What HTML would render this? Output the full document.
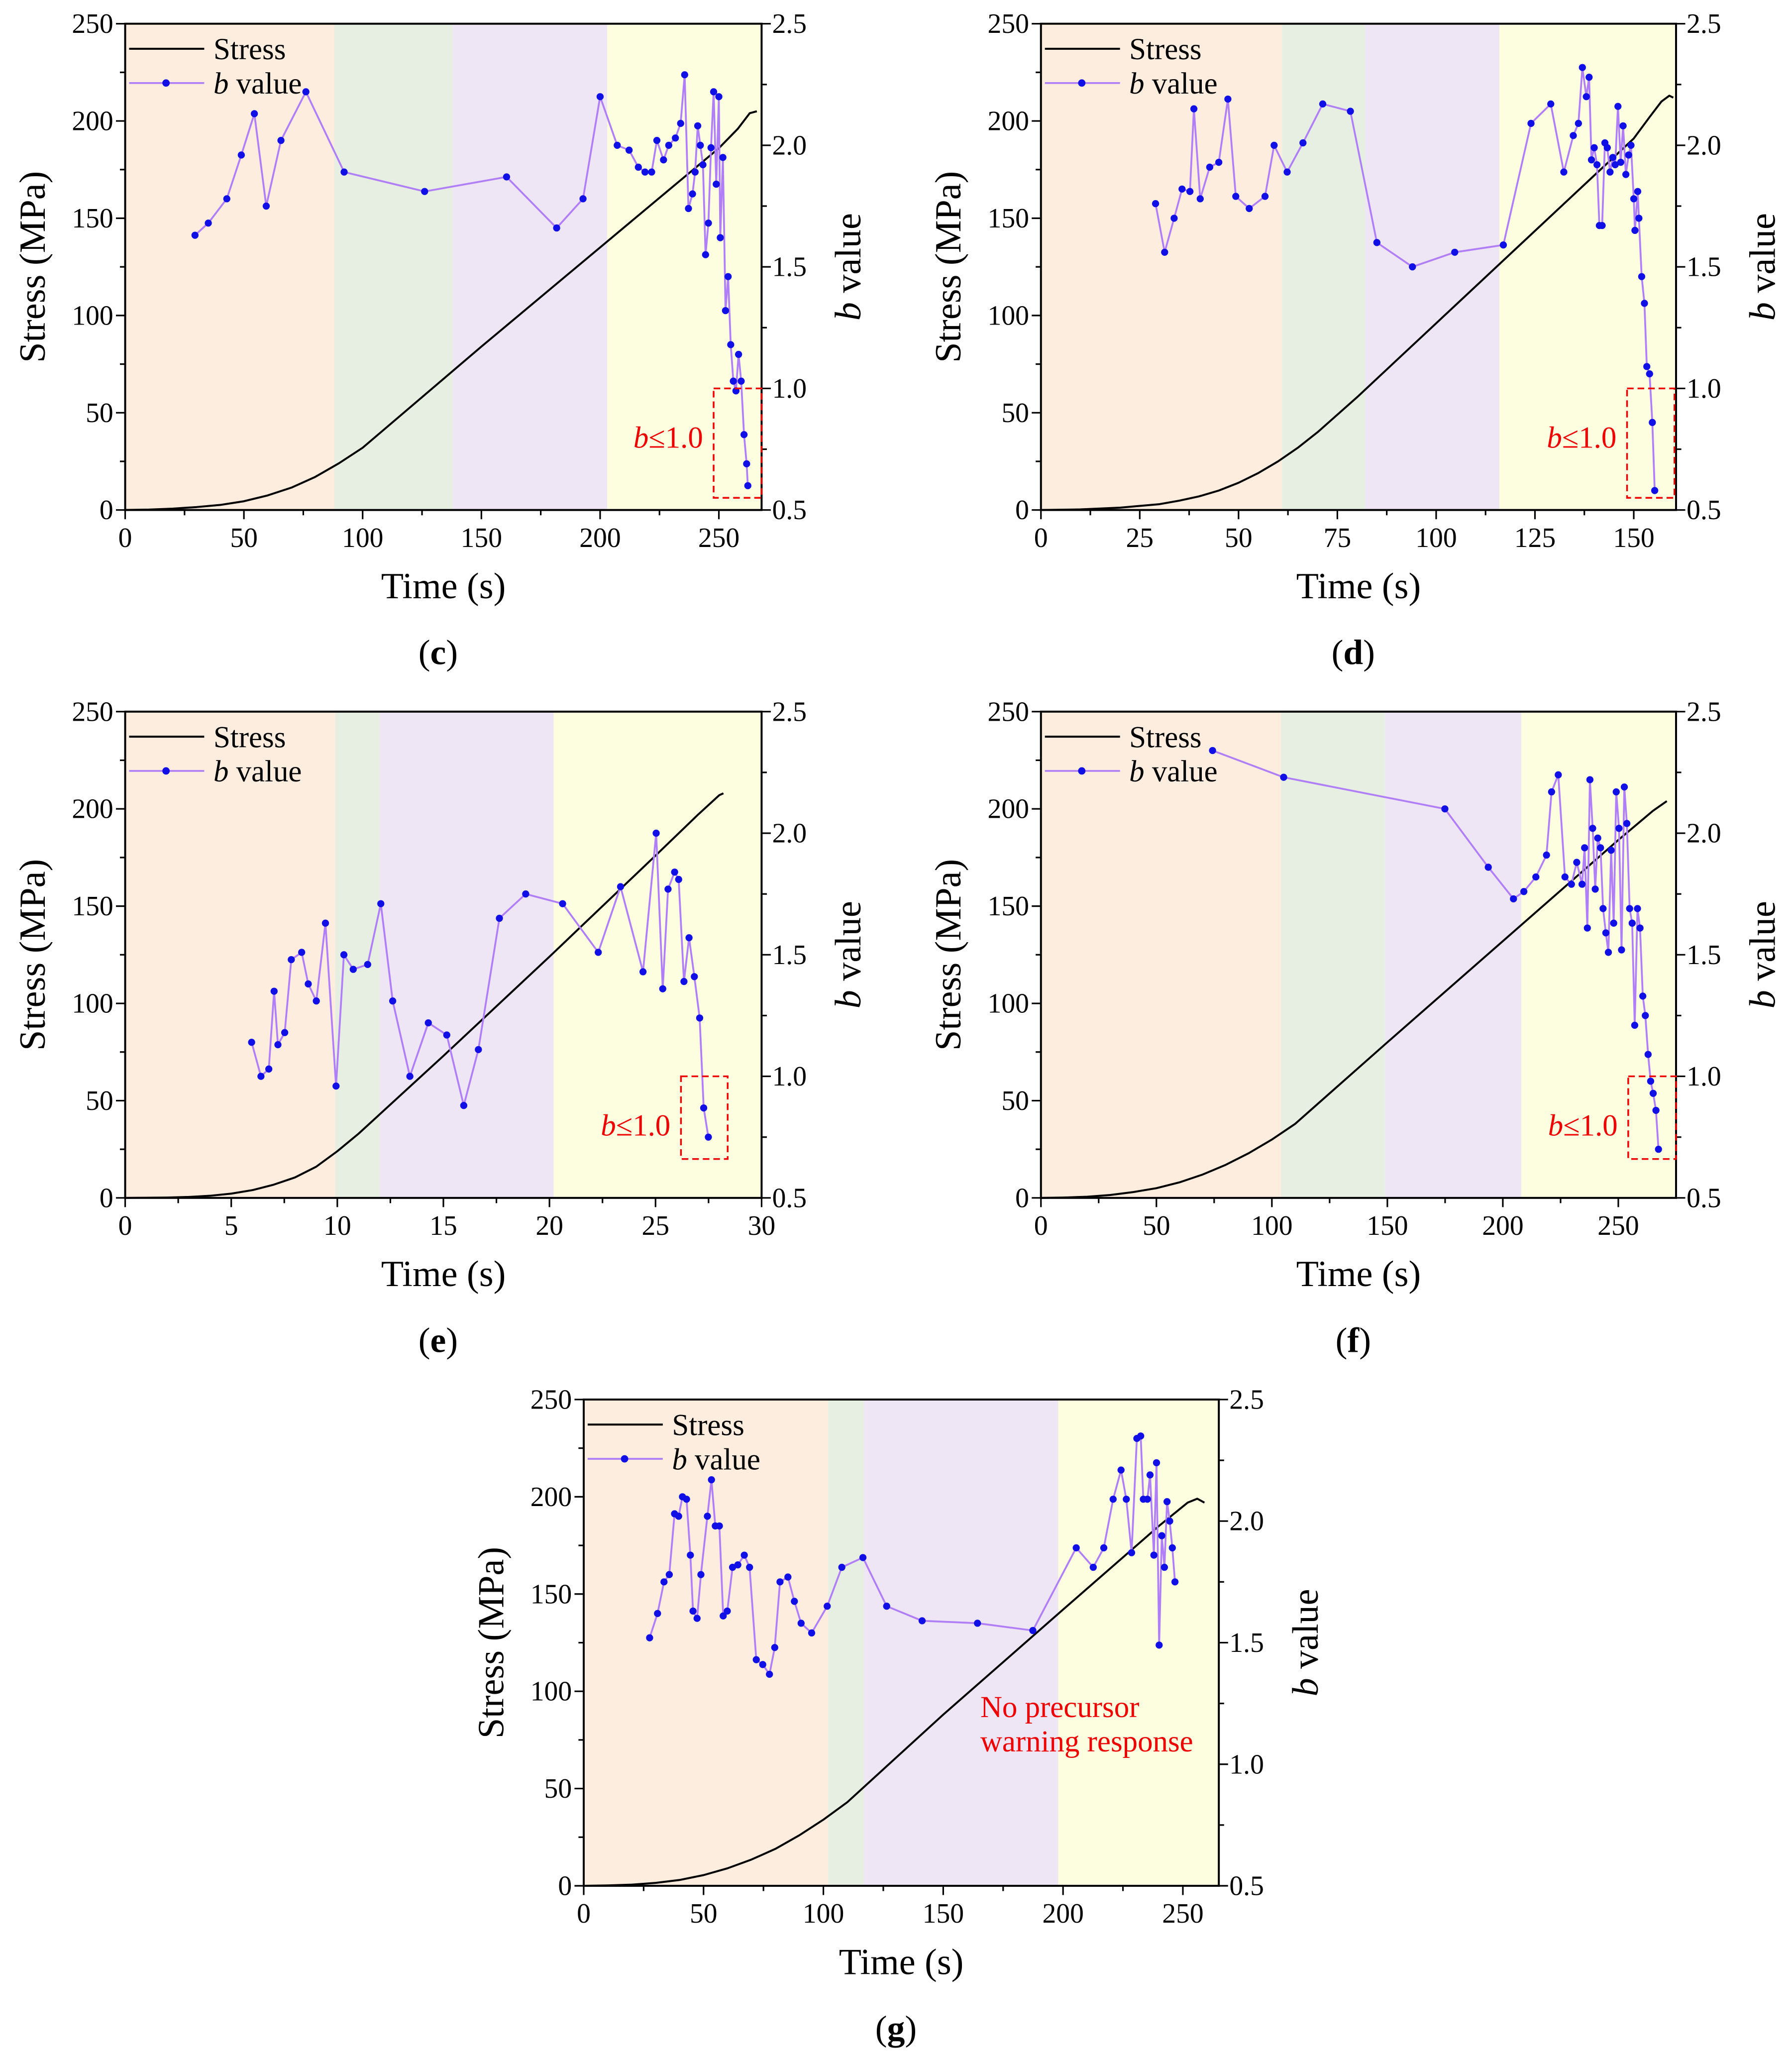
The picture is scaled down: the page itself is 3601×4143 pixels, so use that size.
<!DOCTYPE html>
<html><head><meta charset="utf-8">
<style>html,body{margin:0;padding:0;background:#fff}svg{display:block}svg text{font-family:"Liberation Serif",serif}</style>
</head><body>
<svg id="fig" xmlns="http://www.w3.org/2000/svg" width="3601" height="4143" viewBox="0 0 1360 1564.7"></svg>
<script>
// ---- Panel (c) data ----
const cStressT=[0,10,20,30,40,50,60,70,80,90,100,150,200,250,258,263,266];
const cStressV=[0,0.2,0.7,1.5,2.6,4.5,7.5,11.5,17,24,32,84,135,186,196,204,205];
const cBT=[29.4,35,42.8,48.9,54.4,59.4,65.6,76.1,92.2,126.1,160.6,181.7,192.8,200,207.2,212.2,216.1,218.9,221.7,223.9,226.7,228.9,231.7,233.9,235.6,237.2,238.9,240,241.1,242.2,243.3,244.4,245.6,246.7,247.8,248.9,250,250.6,251.7,252.8,253.9,255,256.1,257.2,258.3,259.4,260.6,261.7,262.2];
const cBV=[1.63,1.68,1.78,1.96,2.13,1.75,2.02,2.22,1.89,1.81,1.87,1.66,1.78,2.20,2.00,1.98,1.91,1.89,1.89,2.02,1.94,2.00,2.03,2.09,2.29,1.74,1.80,1.89,2.08,2.00,1.92,1.55,1.68,1.99,2.22,1.84,2.20,1.62,1.95,1.32,1.46,1.18,1.03,0.99,1.14,1.03,0.81,0.69,0.60];
// ---- Panel (d) data ----
const dStressT=[0,10,20,30,35,40,45,50,55,60,65,70,80,100,120,140,150,154,157,159,160];
const dStressV=[0,0.3,1.2,3,4.8,7,10,14,19,25,32,40,58,96,134,172,191,202,210,213,212];
const dBT=[29,31.3,33.7,35.7,37.7,38.7,40.3,42.7,45,47.3,49.3,52.7,56.7,59,62.3,66.3,71.3,78.3,85,94,104.7,117,124,129,132.3,134.7,136,137,138,138.7,139.3,140,140.7,141.3,142,142.7,143.3,144,144.7,145.3,146,146.7,147.3,148,148.7,149.3,150,150.3,151,151.3,152,152.7,153.3,154,154.7,155.3];
const dBV=[1.76,1.56,1.70,1.82,1.81,2.15,1.78,1.91,1.93,2.19,1.79,1.74,1.79,2.00,1.89,2.01,2.17,2.14,1.60,1.50,1.56,1.59,2.09,2.17,1.89,2.04,2.09,2.32,2.20,2.28,1.94,1.99,1.92,1.67,1.67,2.01,1.99,1.89,1.95,1.92,2.16,1.93,2.08,1.88,1.96,2.00,1.78,1.65,1.81,1.70,1.46,1.35,1.09,1.06,0.86,0.58];
// ---- Panel (e) data ----
const eStressT=[0,2,3,4,5,6,7,8,9,10,11,12,15,20,25,27,28,28.2];
const eStressV=[0,0.2,0.5,1.1,2.2,4,6.8,10.5,16,24,33,43,73,124,176,197,207,208];
const eBT=[5.96,6.40,6.77,7.02,7.20,7.52,7.83,8.32,8.63,9.01,9.44,9.94,10.31,10.75,11.43,12.05,12.61,13.42,14.29,15.16,15.96,16.65,17.64,18.88,20.62,22.30,23.35,24.41,25.03,25.34,25.59,25.90,26.09,26.34,26.58,26.83,27.08,27.27,27.49];
const eBV=[1.14,1.00,1.03,1.35,1.13,1.18,1.48,1.51,1.38,1.31,1.63,0.96,1.50,1.44,1.46,1.71,1.31,1.00,1.22,1.17,0.88,1.11,1.65,1.75,1.71,1.51,1.78,1.43,2.00,1.36,1.77,1.84,1.81,1.39,1.57,1.41,1.24,0.87,0.75];
// ---- Panel (f) data ----
const fStressT=[0,10,20,30,40,50,60,70,80,90,100,110,150,200,250,265,271];
const fStressV=[0,0.2,0.6,1.5,3,5,8,12,17,23,30,38,80,132,184,199,204];
const fBT=[74.3,105.1,174.9,193.7,204.6,209.1,214.3,218.9,221.1,224,226.9,229.7,232,234.3,235.4,236.6,237.7,238.9,240,241.1,242.3,243.4,244.6,245.7,246.9,248,249.1,250.3,251.4,252.6,253.7,254.9,256,257.1,258.3,259.4,260.6,261.7,262.9,264,265.1,266.3,267.4];
const fBV=[2.34,2.23,2.10,1.86,1.73,1.76,1.82,1.91,2.17,2.24,1.82,1.79,1.88,1.79,1.94,1.61,2.22,2.02,1.77,1.98,1.94,1.69,1.59,1.51,1.93,1.63,2.17,2.02,1.52,2.19,2.04,1.69,1.63,1.21,1.69,1.61,1.33,1.25,1.09,0.98,0.93,0.86,0.70];
// ---- Panel (g) data ----
const gStressT=[0,10,20,30,40,50,60,70,80,90,100,110,150,200,240,252,256,259];
const gStressV=[0,0.2,0.6,1.5,3,5.5,9,13.5,19,26,34,43,88,142,185,197,199,197];
const gBT=[27.5,30.8,33.5,35.7,37.9,39.6,41.2,42.9,44.5,45.6,47.3,48.9,51.6,53.3,54.9,56.6,58.2,59.9,62.1,64.3,67,69.2,72,74.7,77.5,79.7,81.9,85.2,87.9,90.7,95.1,101.6,107.7,116.5,126.4,141.2,164.3,187.4,205.5,212.6,217,220.9,224.2,226.4,228.6,230.8,232.4,233.5,235.2,236.3,237.9,239,240.1,241.2,242.3,243.4,244.5,245.6,246.7];
const gBV=[1.52,1.62,1.75,1.78,2.03,2.02,2.10,2.09,1.86,1.63,1.60,1.78,2.02,2.17,1.98,1.98,1.61,1.63,1.81,1.82,1.86,1.81,1.43,1.41,1.37,1.48,1.75,1.77,1.67,1.58,1.54,1.65,1.81,1.85,1.65,1.59,1.58,1.55,1.89,1.81,1.89,2.09,2.21,2.09,1.87,2.34,2.35,2.09,2.09,2.19,1.86,2.24,1.49,1.94,1.81,2.08,2.0,1.89,1.75];
// stage boundaries (s)
const cStages=[88,138,203];
const dStages=[61,82,116];
const eStages=[9.9,12,20.2];
const fStages=[104,149,208];
const gStages=[102,117,198];
const leftTicks=[0,50,100,150,200,250];
const rightTicks=[0.5,1.0,1.5,2.0,2.5];
const cXTicks=[0,50,100,150,200,250];
const dXTicks=[0,25,50,75,100,125,150];
const eXTicks=[0,5,10,15,20,25,30];
const fXTicks=[0,50,100,150,200,250];
const gXTicks=[0,50,100,150,200,250];

const NS='http://www.w3.org/2000/svg';
const svg=document.getElementById('fig');
function mk(tag,attrs,parent,text){const e=document.createElementNS(NS,tag);for(const k in attrs)e.setAttribute(k,attrs[k]);if(text!==undefined)e.textContent=text;(parent||svg).appendChild(e);return e;}
const bandCols=['#fdeddf','#e6efe2','#efe6f5','#fdfde0'];

function panel(id,L,T,W,H,xMax,xTicks,stages,sT,sV,bT,bV,label,box){
  const g=mk('g',{});
  
  
  const X=t=>L+t/xMax*W, YS=v=>T+H-v/250*H, YB=b=>T+H-(b-0.5)/2*H;
  const edges=[0].concat(stages).concat([xMax]);
  for(let i=0;i<4;i++){const r=mk('rect',{x:X(edges[i]),y:T,width:X(edges[i+1])-X(edges[i]),height:H,fill:bandCols[i]},g);
    
    }
  const sp=mk('polyline',{points:sT.map((t,i)=>X(t)+','+YS(sV[i])).join(' '),fill:'none',stroke:'#000','stroke-width':1.5,'stroke-linejoin':'round'},g);
  
  
  const bp=mk('polyline',{points:bT.map((t,i)=>X(t)+','+YB(bV[i])).join(' '),fill:'none',stroke:'#b07ef7','stroke-width':1.4},g);
  
  
  bT.forEach((t,i)=>{const c=mk('circle',{cx:X(t),cy:YB(bV[i]),r:2.7,fill:'#0f0fe6'},g);
    
    });
  mk('rect',{x:L,y:T,width:W,height:H,fill:'none',stroke:'#000','stroke-width':1.5},g);
  for(let v=25;v<250;v+=50){mk('line',{x1:L,x2:L-4,y1:YS(v),y2:YS(v),stroke:'#000','stroke-width':1.2},g);}
  for(let v=0.75;v<2.5;v+=0.5){mk('line',{x1:L+W,x2:L+W+4,y1:YB(v),y2:YB(v),stroke:'#000','stroke-width':1.2},g);}
  const xs=xTicks[1]-xTicks[0];
  for(let v=xs/2;v<xMax;v+=xs){mk('line',{x1:X(v),x2:X(v),y1:T+H,y2:T+H+4,stroke:'#000','stroke-width':1.2},g);}
  leftTicks.forEach(v=>{mk('line',{x1:L,x2:L-7,y1:YS(v),y2:YS(v),stroke:'#000','stroke-width':1.2},g);
    const tx=mk('text',{x:L-9,y:YS(v)+7,'text-anchor':'end','font-size':21},g,v);
    
    });
  rightTicks.forEach(v=>{mk('line',{x1:L+W,x2:L+W+7,y1:YB(v),y2:YB(v),stroke:'#000','stroke-width':1.2},g);
    const tx=mk('text',{x:L+W+8,y:YB(v)+7,'font-size':21},g,v.toFixed(1));
    
    });
  xTicks.forEach(v=>{mk('line',{x1:X(v),x2:X(v),y1:T+H,y2:T+H+7,stroke:'#000','stroke-width':1.2},g);
    const tx=mk('text',{x:X(v),y:T+H+28,'text-anchor':'middle','font-size':21},g,v);
    
    });
  const xt=mk('text',{x:L+W/2,y:T+H+67,'text-anchor':'middle','font-size':28},g,'Time (s)');
  
  
  const yt=mk('text',{transform:`translate(${L-61},${T+H/2}) rotate(-90)`,'text-anchor':'middle','font-size':28},g,'Stress (MPa)');
  
  
  const rt=mk('text',{transform:`translate(${L+W+75},${T+H/2}) rotate(-90)`,'text-anchor':'middle','font-size':28},g);
  
  
  mk('tspan',{'font-style':'italic'},rt,'b');mk('tspan',{},rt,' value');
  const lg=mk('g',{},g);
  
  
  mk('line',{x1:L+3,x2:L+60,y1:T+19,y2:T+19,stroke:'#000','stroke-width':1.5},lg);
  mk('text',{x:L+67,y:T+27,'font-size':23},lg,'Stress');
  mk('line',{x1:L+3,x2:L+60,y1:T+45,y2:T+45,stroke:'#b07ef7','stroke-width':1.4},lg);
  mk('circle',{cx:L+31,cy:T+45,r:2.8,fill:'#0f0fe6'},lg);
  const lt=mk('text',{x:L+67,y:T+53,'font-size':23},lg);
  mk('tspan',{'font-style':'italic'},lt,'b');mk('tspan',{},lt,' value');
  const pl=mk('text',{x:L+W/2-4,y:T+H+117,'text-anchor':'middle','font-size':27},g);
  
  
  mk('tspan',{},pl,'(');mk('tspan',{'font-weight':'bold'},pl,label);mk('tspan',{},pl,')');
  if(box){
    const bx=mk('rect',{x:X(box[0]),y:YB(box[3]),width:X(box[1])-X(box[0]),height:YB(box[2])-YB(box[3]),fill:'none',stroke:'#e00','stroke-width':1.3,'stroke-dasharray':'5,3'},g);
    
    
    const bt=mk('text',{x:X(box[0])-8,y:YB(0.8)+8,'text-anchor':'end','font-size':23,fill:'#e00'},g);
    
    
    mk('tspan',{'font-style':'italic'},bt,'b');mk('tspan',{},bt,'\u22641.0');
  }
  return {g,X,YB};
}
panel('c',95,18,483,369,268,cXTicks,cStages,cStressT,cStressV,cBT,cBV,'c',[247.8,268,0.55,1.0]);
panel('d',790,18,482,369,160.7,dXTicks,dStages,dStressT,dStressV,dBT,dBV,'d',[148.3,160.3,0.55,1.0]);
panel('e',95,540,483,369,30,eXTicks,eStages,eStressT,eStressV,eBT,eBV,'e',[26.2,28.4,0.66,1.0]);
panel('f',790,540,482,369,275,fXTicks,fStages,fStressT,fStressV,fBT,fBV,'f',[254.3,275,0.66,1.0]);
const pg=panel('g',443,1062,482,369,265,gXTicks,gStages,gStressT,gStressV,gBT,gBV,'g',null);
const nt=mk('text',{x:744,y:1303,'font-size':23,fill:'#e00'},pg.g,'No precursor');


const nt2=mk('text',{x:744,y:1329,'font-size':23,fill:'#e00'},pg.g,'warning response');


</script>
</body></html>
